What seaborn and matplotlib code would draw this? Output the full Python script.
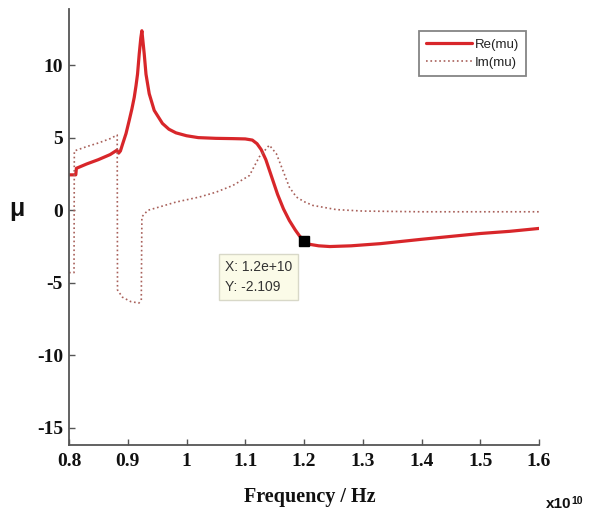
import matplotlib
matplotlib.use("Agg")
import matplotlib.pyplot as plt
import seaborn as sns
import pandas as pd

# ---- data (frequency in units of 1e10 Hz) ----
re_freq = [0.800, 0.8115, 0.8125, 0.830, 0.850, 0.870, 0.8815, 0.8845, 0.8875,
           0.891, 0.897, 0.9024, 0.907, 0.911, 0.914, 0.9166, 0.9195, 0.9222,
           0.924, 0.926, 0.928, 0.931, 0.9365, 0.945, 0.959, 0.970, 0.982,
           1.000, 1.020, 1.050, 1.080, 1.100, 1.112, 1.120, 1.127, 1.135, 1.145,
           1.155, 1.165, 1.175, 1.185, 1.192, 1.200, 1.210, 1.225, 1.244, 1.280,
           1.330, 1.400, 1.450, 1.500, 1.550, 1.600]
re_mu = [2.45, 2.45, 2.9, 3.2, 3.5, 3.85, 4.15, 3.95, 4.1,
         4.55, 5.3, 6.2, 7.0, 7.8, 8.6, 9.4, 10.8, 11.9,
         12.4, 11.6, 10.8, 9.4, 8.05, 6.9, 6.0, 5.6, 5.35,
         5.15, 5.02, 4.97, 4.95, 4.93, 4.85, 4.6, 4.2, 3.5, 2.3,
         1.1, 0.1, -0.7, -1.35, -1.75, -2.109, -2.35, -2.45, -2.5, -2.45,
         -2.3, -2.0, -1.8, -1.6, -1.45, -1.25]

im_freq = [0.800, 0.8085, 0.809, 0.830, 0.850, 0.870, 0.882, 0.8825, 0.891,
           0.905, 0.919, 0.923, 0.924, 0.934, 0.9536, 0.982, 1.022, 1.050,
           1.079, 1.107, 1.124, 1.141, 1.153, 1.164, 1.175, 1.187, 1.200,
           1.215, 1.255, 1.300, 1.400, 1.500, 1.600]
im_mu = [-4.3, -4.3, 4.1, 4.4, 4.65, 4.95, 5.2, -5.5, -6.0,
         -6.3, -6.4, -6.2, -0.45, 0.0, 0.23, 0.57, 0.92, 1.25,
         1.72, 2.4, 3.7, 4.5, 3.9, 2.76, 1.6, 0.92, 0.6,
         0.34, 0.05, -0.05, -0.1, -0.1, -0.1]

tip_freq = [1.2]
tip_mu = [-2.109]
tip_text = "X: 1.2e+10\nY: -2.109"

x_ticks = [0.8, 0.9, 1.0, 1.1, 1.2, 1.3, 1.4, 1.5, 1.6]
x_tick_labels = ["0.8", "0.9", "1", "1.1", "1.2", "1.3", "1.4", "1.5", "1.6"]
y_ticks = [-15, -10, -5, 0, 5, 10]
y_tick_labels = ["-15", "-10", "-5", "0", "5", "10"]

sns.set_style("white")
plt.rcParams["font.family"] = ["DejaVu Sans"]

re_df = pd.DataFrame({"f": re_freq, "mu": re_mu})
im_df = pd.DataFrame({"f": im_freq, "mu": im_mu})

fig = plt.figure(figsize=(5.92, 5.17), dpi=100)
ax = fig.add_axes([0.1166, 0.1393, 0.7939, 0.8433])

sns.lineplot(data=re_df, x="f", y="mu", ax=ax, sort=False, estimator=None,
             color="#d8262a", linewidth=2.3, label="Re(mu)")
sns.lineplot(data=im_df, x="f", y="mu", ax=ax, sort=False, estimator=None,
             color="#a8605a", linewidth=1.2, linestyle=":", label="Im(mu)")

ax.plot(tip_freq, tip_mu, marker="s", markersize=7, color="black",
        linestyle="none")
ax.annotate(tip_text, xy=(tip_freq[0], tip_mu[0]), xycoords="data",
            xytext=(-57, -13.5), textcoords="offset points",
            ha="left", va="top", fontsize=10, color="#333333",
            family="Liberation Sans", linespacing=1.55,
            bbox=dict(boxstyle="square,pad=0.42", fc="#fbfbe8",
                      ec="#d8d8c8", lw=1))

ax.set_xlim(0.8, 1.6)
ax.set_ylim(-16.2, 13.9)
ax.set_xticks(x_ticks)
ax.set_xticklabels(x_tick_labels)
ax.set_yticks(y_ticks)
ax.set_yticklabels(y_tick_labels)

for lab in ax.get_xticklabels() + ax.get_yticklabels():
    lab.set_family("Liberation Serif")
    lab.set_fontweight("bold")
    lab.set_fontsize(14)
    lab.set_color("#111111")

ax.tick_params(axis="both", direction="in", length=4.5, width=1,
               color="#555555", bottom=True, left=True)
ax.tick_params(axis="x", pad=5.5)
ax.tick_params(axis="y", pad=4.3)

for side in ["top", "right"]:
    ax.spines[side].set_visible(False)
for side in ["left", "bottom"]:
    ax.spines[side].set_color("#555555")
    ax.spines[side].set_linewidth(1.3)

ax.set_xlabel("Frequency / Hz", family="Liberation Serif", fontweight="bold",
              fontsize=14.5, color="#111111")
ax.xaxis.set_label_coords(0.512, -0.119)
ax.xaxis.label.set_va("center")
ax.set_ylabel("μ", rotation=0, family="Liberation Sans", fontweight="bold",
              fontsize=18, color="#111111")
ax.yaxis.set_label_coords(-0.11, 0.541)
ax.yaxis.label.set_va("center")

fig.text(546 / 592, 1 - 508 / 517, "x10", family="Liberation Sans",
         fontweight="bold", fontsize=11, ha="left", va="baseline",
         color="#111111")
fig.text(571.5 / 592, 1 - 504 / 517, "10", family="Liberation Sans",
         fontweight="bold", fontsize=7.5, ha="left", va="baseline",
         color="#111111")

leg = ax.legend(loc="upper right", bbox_to_anchor=(0.973, 0.9495),
                fontsize=9.5, handlelength=3.5, frameon=True, fancybox=False,
                borderpad=0.55, labelspacing=0.45, handletextpad=0.2,
                borderaxespad=0)
leg.get_frame().set_edgecolor("#666666")
leg.get_frame().set_linewidth(1.3)
for t in leg.get_texts():
    t.set_family("Liberation Sans")
    t.set_color("#222222")

fig.savefig("out.png", dpi=100)
